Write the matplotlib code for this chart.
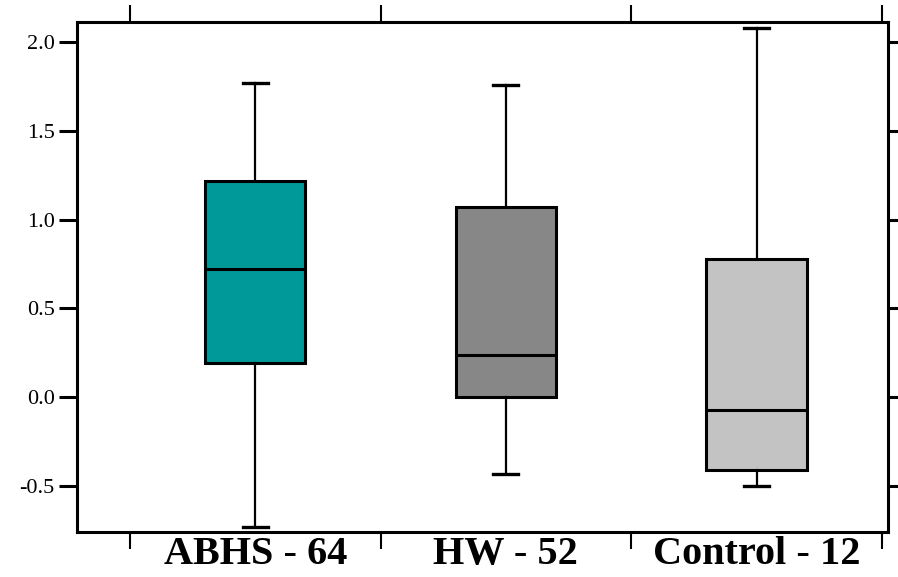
import matplotlib.pyplot as plt

groups = ["ABHS - 64", "HW - 52", "Control - 12"]
whislo = [-0.73, -0.43, -0.50]
q1 = [0.19, 0.00, -0.41]
med = [0.72, 0.24, -0.07]
q3 = [1.22, 1.07, 0.78]
whishi = [1.77, 1.76, 2.08]
colors = ["#009999", "#878787", "#c3c3c3"]

plt.rcParams['font.family'] = ['Liberation Serif', 'DejaVu Serif']

fig = plt.figure(figsize=(8.98, 5.77), dpi=100)
ax = fig.add_axes([0.0857, 0.078, 0.9031, 0.8839])

stats = []
for i in range(len(groups)):
    stats.append(dict(label=groups[i], whislo=whislo[i], q1=q1[i], med=med[i],
                      q3=q3[i], whishi=whishi[i], fliers=[]))

bp = ax.bxp(stats, positions=[1, 2, 3], widths=0.4, patch_artist=True,
            showfliers=False,
            boxprops=dict(linewidth=2.2, edgecolor="black"),
            medianprops=dict(color="black", linewidth=2.2),
            whiskerprops=dict(color="black", linewidth=1.6),
            capprops=dict(color="black", linewidth=2.4),
            capwidths=0.1)
for patch, c in zip(bp["boxes"], colors):
    patch.set_facecolor(c)

ax.set_xlim(0.289, 3.524)
ax.set_ylim(-0.759, 2.113)

ax.set_yticks([-0.5, 0.0, 0.5, 1.0, 1.5, 2.0])
ax.set_yticklabels(["-0.5", "0.0", "0.5", "1.0", "1.5", "2.0"])
ax.set_xticks([0.5, 1.5, 2.5, 3.5])
ax.set_xticklabels([])
ax.set_xticks([1, 2, 3], minor=True)
ax.set_xticklabels(groups, minor=True, fontsize=29, fontweight="bold")

ax.tick_params(axis="x", which="major", direction="out", length=12, width=1.5,
               top=True, bottom=True)
ax.tick_params(axis="x", which="minor", length=0, pad=3)
ax.tick_params(axis="y", direction="out", length=13, width=2.2, left=True,
               right=True, labelsize=16, pad=3)

for s in ax.spines.values():
    s.set_linewidth(2.2)

fig.savefig("out.png", dpi=100)
